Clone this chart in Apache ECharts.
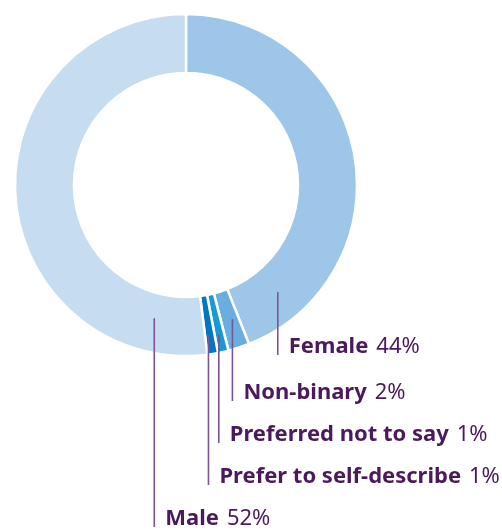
<!DOCTYPE html>
<html>
<head>
<meta charset="utf-8">
<script src="https://cdn.jsdelivr.net/npm/echarts@6/dist/echarts.min.js"></script>
<style>
  html, body { margin: 0; padding: 0; background: #ffffff; }
  #chart { width: 502px; height: 530px; }
</style>
</head>
<body>
<div id="chart"></div>
<script>
// Gender breakdown, clockwise from 12 o'clock
const categories = ['Female', 'Non-binary', 'Preferred not to say', 'Prefer to self-describe', 'Male'];
const shares = [44, 2, 1, 1, 52];
const sliceColors = ['#9dc6e8', '#6aaee0', '#1a98d6', '#0077c0', '#c6dcf0'];

// Where each leader line leaves its slice (fraction of the slice's sweep, radius in px)
const anchorFraction = [0.88, 0.35, 0.56, 0.64, 0.11];
const anchorRadius = [141, 142, 153, 152, 137];
// Baseline of each label, px from top
const labelBaseline = [355, 401, 443, 485, 527];

const CX = 186, CY = 185, R_IN = 112, R_OUT = 171;
const TEXT = '#4a1a5c', LINE = '#7b5496';

const total = shares.reduce((a, b) => a + b, 0);
const startDeg = [];
let acc = 0;
shares.forEach(v => { startDeg.push(acc / total * 360); acc += v; });

function anchorPoint(i) {
  const sweep = shares[i] / total * 360;
  const deg = startDeg[i] + sweep * anchorFraction[i];
  const rad = deg * Math.PI / 180;
  return [CX + anchorRadius[i] * Math.sin(rad), CY - anchorRadius[i] * Math.cos(rad)];
}

const pieData = categories.map((name, i) => ({
  name,
  value: shares[i],
  itemStyle: { color: sliceColors[i] }
}));

const common = {
  type: 'pie',
  center: [CX, CY],
  radius: [R_IN, R_OUT],
  startAngle: 90,
  clockwise: true,
  avoidLabelOverlap: false,
  silent: true
};

const chart = echarts.init(document.getElementById('chart'), null, { renderer: 'canvas' });

chart.setOption({
  backgroundColor: '#ffffff',
  animation: false,
  series: [
    // the ring itself
    Object.assign({}, common, {
      z: 2,
      itemStyle: { borderColor: '#ffffff', borderWidth: 2.5 },
      label: { show: false },
      labelLine: { show: false },
      data: pieData
    }),
    // transparent copy on top carrying the labels and leader lines
    Object.assign({}, common, {
      z: 5,
      itemStyle: { color: 'rgba(0,0,0,0)', borderWidth: 0 },
      label: {
        show: true,
        position: 'outside',
        formatter: p => '{b|' + p.name + '}{v|' + p.value + '%}',
        rich: {
          b: { fontFamily: 'Noto Sans', fontWeight: 'bold', fontSize: 22, color: TEXT },
          v: { fontFamily: 'Noto Sans', fontWeight: 'normal', fontSize: 22, color: TEXT, padding: [0, 0, 0, 8] }
        }
      },
      labelLine: {
        show: true,
        lineStyle: { color: LINE, width: 1.6 }
      },
      labelLayout: params => {
        const i = params.dataIndex;
        const [ax, ay] = anchorPoint(i);
        const lineBottom = labelBaseline[i];
        return {
          x: ax + 11,
          y: lineBottom - 8,
          align: 'left',
          verticalAlign: 'middle',
          labelLinePoints: [[ax, ay], [ax, lineBottom], [ax, lineBottom]]
        };
      },
      data: categories.map((name, i) => ({
        name,
        value: shares[i],
        itemStyle: { color: 'rgba(0,0,0,0)' }
      }))
    })
  ]
});
</script>
</body>
</html>
